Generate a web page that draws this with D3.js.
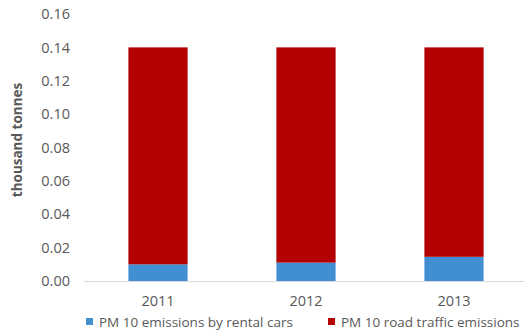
<!DOCTYPE html>
<html><head><meta charset="utf-8">
<script src="https://cdn.jsdelivr.net/npm/d3@7"></script>
<style>body{margin:0;background:#fff}svg{display:block}text{font-family:"Open Sans",sans-serif;fill:#595959}</style>
</head><body><svg id="c" width="524" height="333"></svg>
<script>
const years = ["2011", "2012", "2013"];
const rentalCars = [0.010, 0.011, 0.0145];
const roadTraffic = [0.130, 0.129, 0.1255];
const yTicks = [0, 0.02, 0.04, 0.06, 0.08, 0.10, 0.12, 0.14, 0.16];
const seriesNames = ["PM 10 emissions by rental cars", "PM 10 road traffic emissions"];
const colors = ["#418FD0", "#B40000"];

const svg = d3.select("#c");
const x = d3.scaleBand().domain(years).range([84, 528]).paddingInner(0.6).paddingOuter(0.3);
const y = d3.scaleLinear().domain([0, 0.16]).range([281, 14]);

const rows = years.map((yr, i) => ({year: yr, rental: rentalCars[i], road: roadTraffic[i]}));
const stack = d3.stack().keys(["rental", "road"])(rows);

svg.append("g").selectAll("g").data(stack).join("g")
  .attr("fill", (d, i) => colors[i])
  .selectAll("rect").data(d => d).join("rect")
  .attr("x", d => x(d.data.year))
  .attr("width", x.bandwidth())
  .attr("y", d => y(d[1]))
  .attr("height", d => y(d[0]) - y(d[1]));

const ya = svg.append("g").attr("transform", "translate(70,0)")
  .call(d3.axisLeft(y).tickValues(yTicks).tickFormat(d3.format(".2f")).tickSize(0).tickPadding(0));
ya.select(".domain").remove();
ya.selectAll("text").attr("font-size", 14.5).attr("font-family", "'Open Sans',sans-serif").attr("fill", "#595959");

const xa = svg.append("g").attr("transform", "translate(0,281)")
  .call(d3.axisBottom(x).tickSize(0).tickPadding(15));
xa.select(".domain").attr("stroke", "#D9D9D9").attr("stroke-width", 1.2);
xa.selectAll("text").attr("font-size", 14.5).attr("font-family", "'Open Sans',sans-serif").attr("fill", "#595959");

svg.append("text").attr("transform", "translate(17,140) rotate(-90)")
  .attr("text-anchor", "middle").attr("dy", "0.35em").attr("font-size", 13.5).attr("font-weight", "bold")
  .text("thousand tonnes");

const legX = [86, 328];
const lg = svg.append("g").selectAll("g").data(seriesNames).join("g")
  .attr("transform", (d, i) => `translate(${legX[i]},322)`);
lg.append("rect").attr("x", 0).attr("y", -4).attr("width", 7).attr("height", 7).attr("fill", (d, i) => colors[i]);
lg.append("text").attr("x", 13).attr("y", 0).attr("dy", "0.35em").attr("font-size", 13.5).text(d => d);
</script></body></html>
